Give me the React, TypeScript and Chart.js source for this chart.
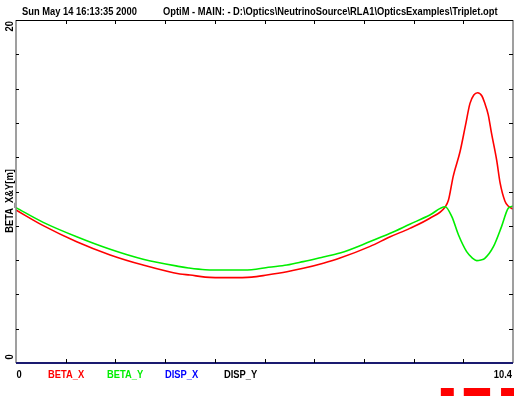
import React, { useEffect, useRef } from "react";
import { Chart, registerables } from "chart.js";

Chart.register(...registerables);

const titleDate = "Sun May 14 16:13:35 2000";
const titleFile = "OptiM - MAIN: - D:\\Optics\\NeutrinoSource\\RLA1\\OpticsExamples\\Triplet.opt";
const yAxisTitle = "BETA_X&Y[m]";
const legendNames = ["BETA_X", "BETA_Y", "DISP_X", "DISP_Y"];
const legendColors = ["#ff0000", "#00ee00", "#0000ff", "#000000"];

const xMin = 0;
const xMax = 10.4;
const yMin = 0;
const yMax = 20;
const xTickCount = 10;
const yTickCount = 10;
const xTickLabels = ["0", "10.4"];
const yTickLabels = ["0", "20"];

const sBetaX = [0, 0.57, 1.27, 1.97, 2.66, 3.43, 3.64, 3.96, 4.46, 4.93, 5.25, 5.67, 6.01, 6.43, 6.78, 7.41, 7.83, 8.24, 8.66, 8.98,
  9.05, 9.15, 9.29, 9.4, 9.5, 9.58, 9.66, 9.75, 9.81, 9.88, 9.95, 10.06, 10.13, 10.23, 10.3, 10.4];
const betaX = [8.92, 8.01, 7.07, 6.3, 5.71, 5.19, 5.13, 5.01, 4.98, 5.01, 5.13, 5.32, 5.52, 5.82, 6.12, 6.8, 7.36, 7.85, 8.44, 9.1,
  9.5, 10.9, 12.3, 13.78, 15.14, 15.63, 15.76, 15.57, 15.14, 14.5, 13.4, 11.8, 10.5, 9.45, 9.15, 8.98];

const sBetaY = [0, 0.57, 1.27, 1.97, 2.66, 3.43, 3.61, 3.96, 4.46, 4.93, 5.28, 5.67, 6.01, 6.43, 6.78, 7.41, 7.83, 8.24, 8.66, 8.98,
  9.12, 9.26, 9.43, 9.55, 9.64, 9.73, 9.81, 9.99, 10.16, 10.3, 10.4];
const betaY = [9.06, 8.2, 7.36, 6.63, 6.05, 5.62, 5.54, 5.44, 5.42, 5.44, 5.58, 5.71, 5.91, 6.18, 6.41, 7.08, 7.56, 8.09, 8.63, 9.11,
  8.53, 7.46, 6.49, 6.12, 5.97, 6.01, 6.1, 6.78, 7.95, 9.02, 9.15];

const sDisp = [0, 10.4];
const dispX = [0, 0];
const dispY = [0, 0];

// lattice elements (quadrupoles)
const elemStart = [8.89, 9.37, 10.15];
const elemEnd = [9.14, 9.9, 10.4];

const toPts = (xs: number[], ys: number[]) => xs.map((x, i) => ({ x, y: ys[i] }));

const FONT = "'Liberation Sans', Arial, sans-serif";
const SQUEEZE = 0.85;

const overlay = {
  id: "optimOverlay",
  afterDraw(chart: any) {
    const { ctx, chartArea } = chart;
    const xs = chart.scales.x;
    const ys = chart.scales.y;
    const { left, right, top, bottom } = chartArea;
    ctx.save();
    // frame
    ctx.lineWidth = 1.5;
    ctx.strokeStyle = "#808080";
    ctx.beginPath();
    ctx.moveTo(left, top); ctx.lineTo(left, bottom);
    ctx.moveTo(right, top); ctx.lineTo(right, bottom);
    ctx.stroke();
    ctx.lineWidth = 1;
    ctx.strokeStyle = "#000";
    ctx.beginPath();
    ctx.moveTo(left, top + 0.5); ctx.lineTo(right, top + 0.5);
    ctx.stroke();
    ctx.lineWidth = 2;
    ctx.strokeStyle = "#1a1a70";
    ctx.beginPath();
    ctx.moveTo(left, bottom); ctx.lineTo(right, bottom);
    ctx.stroke();
    // ticks
    ctx.lineWidth = 1;
    ctx.strokeStyle = "#000";
    ctx.beginPath();
    for (let i = 1; i < xTickCount; i++) {
      const px = Math.round(xs.getPixelForValue(xMin + (i * (xMax - xMin)) / xTickCount)) + 0.5;
      ctx.moveTo(px, top); ctx.lineTo(px, top + 4);
      ctx.moveTo(px, bottom); ctx.lineTo(px, bottom - 4);
    }
    for (let i = 1; i < yTickCount; i++) {
      const py = Math.round(ys.getPixelForValue(yMin + (i * (yMax - yMin)) / yTickCount)) + 0.5;
      ctx.moveTo(left, py); ctx.lineTo(left + 3, py);
      ctx.moveTo(right, py); ctx.lineTo(right - 4, py);
    }
    ctx.stroke();

    ctx.font = "bold 11px " + FONT;
    ctx.textBaseline = "middle";
    // squeezed text helper
    const txt = (t: string, x: number, y: number, align: "left" | "center" | "right", color: string, angle = 0) => {
      const w = ctx.measureText(t).width * SQUEEZE;
      ctx.save();
      ctx.fillStyle = color;
      ctx.translate(x, y);
      if (angle) ctx.rotate(angle);
      let ox = 0;
      if (align === "center") ox = -w / 2;
      else if (align === "right") ox = -w;
      ctx.translate(ox, 0);
      ctx.scale(SQUEEZE, 1);
      ctx.textAlign = "left";
      ctx.fillText(t, 0, 0);
      ctx.restore();
    };

    // title
    txt(titleDate, 22, 12, "left", "#000");
    txt(titleFile, 163, 12, "left", "#000");

    // x tick labels
    txt(xTickLabels[0], xs.getPixelForValue(xMin) + 3, 375, "center", "#000");
    txt(xTickLabels[1], xs.getPixelForValue(xMax) - 1, 375, "right", "#000");

    // legend
    const legendX = [48, 107, 165, 224];
    legendNames.forEach((n, i) => txt(n, legendX[i], 375, "left", legendColors[i]));

    // y labels (rotated)
    txt(yTickLabels[1], 10, ys.getPixelForValue(yMax) + 1, "right", "#000", -Math.PI / 2);
    txt(yTickLabels[0], 10, ys.getPixelForValue(yMin) - 6, "center", "#000", -Math.PI / 2);
    txt(yAxisTitle, 10, 201, "center", "#000", -Math.PI / 2);

    // lattice elements
    ctx.fillStyle = "#ff0000";
    elemStart.forEach((s, i) => {
      const x0 = xs.getPixelForValue(s);
      const x1 = xs.getPixelForValue(elemEnd[i]);
      ctx.fillRect(x0, 388, Math.max(x1 - x0, 1) + 1, 8);
    });
    ctx.restore();
  },
};

export default function App() {
  const ref = useRef<HTMLCanvasElement>(null);
  useEffect(() => {
    document.body.style.margin = "0";
    const c = ref.current!;
    const chart = new Chart(c, {
      type: "scatter",
      data: {
        datasets: [
          { label: "DISP_X", data: toPts(sDisp, dispX), showLine: true, borderColor: "#0000ff", borderWidth: 2, pointRadius: 0 },
          { label: "DISP_Y", data: toPts(sDisp, dispY), showLine: true, borderColor: "#000000", borderWidth: 1, pointRadius: 0 },
          { label: "BETA_Y", data: toPts(sBetaY, betaY), showLine: true, borderColor: "#00ee00", borderWidth: 1.6, pointRadius: 0, cubicInterpolationMode: "monotone" },
          { label: "BETA_X", data: toPts(sBetaX, betaX), showLine: true, borderColor: "#ff0000", borderWidth: 1.6, pointRadius: 0, cubicInterpolationMode: "monotone" },
        ],
      },
      options: {
        animation: false,
        responsive: false,
        devicePixelRatio: 1,
        layout: { padding: { left: 16, top: 20, right: 1, bottom: 35 } },
        plugins: { legend: { display: false }, tooltip: { enabled: false }, title: { display: false } },
        scales: {
          x: { type: "linear", min: xMin, max: xMax, display: false },
          y: { type: "linear", min: yMin, max: yMax, display: false },
        },
      },
      plugins: [overlay],
    });
    return () => chart.destroy();
  }, []);
  return <canvas ref={ref} width={514} height={398} style={{ display: "block" }} />;
}
